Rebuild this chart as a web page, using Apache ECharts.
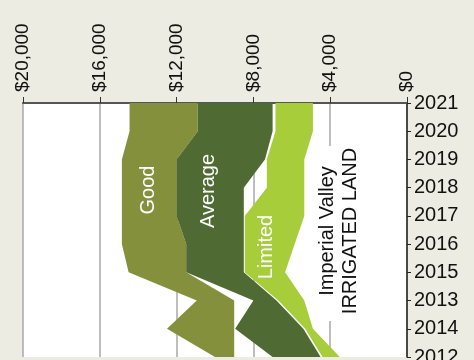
<!DOCTYPE html>
<html>
<head>
<meta charset="utf-8">
<script src="https://cdn.jsdelivr.net/npm/echarts@6/dist/echarts.min.js"></script>
<style>
  html, body { margin: 0; padding: 0; background: #ecece2; }
  #chart { width: 474px; height: 360px; }
</style>
</head>
<body>
<div id="chart"></div>
<script>
// Years, listed from the top of the chart to the bottom
const years = ['2021', '2020', '2019', '2018', '2017', '2016', '2015', '2013', '2014', '2012'];

// Land value ranges ($ per acre), high and low edge of each band
const goodHigh    = [14450, 14450, 14850, 14850, 14850, 14850, 14500, 10950, 12500, 10000];
const goodLow     = [10900, 10900, 12000, 12000, 12000, 11500, 11500,  9000,  9000,  9000];
const averageHigh = [10900, 10900, 12000, 12000, 12000, 11500, 11500,  8000,  8950,  7000];
const averageLow  = [ 7000,  7000,  7400,  8500,  8500,  8500,  8500,  6800,  5400,  4500];
const limitedHigh = [ 6850,  6850,  7300,  7300,  8450,  8450,  8450,  6700,  5300,  4400];
const limitedLow  = [ 4900,  4900,  5350,  5350,  5350,  5850,  6350,  5350,  4900,  3500];

// Value axis ticks
const valueTicks = [0, 4000, 8000, 12000, 16000, 20000];

const NARROW = '"Liberation Sans Narrow", "Liberation Sans", Arial, sans-serif';
const SANS = '"Liberation Sans", Arial, sans-serif';

// A band is an invisible base (low edge) with the range stacked on top of it
function band(name, low, high, color) {
  return [
    {
      name: name + ' base', type: 'line', stack: name, data: low,
      symbol: 'none', silent: true, lineStyle: { opacity: 0 }
    },
    {
      name: name, type: 'line', stack: name,
      data: high.map((h, i) => h - low[i]),
      symbol: 'none', silent: true, lineStyle: { opacity: 0 },
      areaStyle: { color: color, opacity: 1 }
    }
  ];
}

const chart = echarts.init(document.getElementById('chart'));
chart.setOption({
  animation: false,
  backgroundColor: '#ecece2',
  grid: {
    left: 23, right: 67, top: 103, bottom: 3,
    containLabel: false, outerBoundsMode: 'none',
    show: true, backgroundColor: '#ffffff', borderWidth: 0
  },
  xAxis: {
    type: 'value',
    position: 'top',
    inverse: true,
    min: valueTicks[0],
    max: valueTicks[valueTicks.length - 1],
    interval: valueTicks[1] - valueTicks[0],
    axisLine: { show: true, lineStyle: { color: '#555555', width: 2 } },
    axisTick: { show: true, length: 6, lineStyle: { color: '#333333', width: 1 } },
    axisLabel: {
      rotate: -90, margin: 11, fontSize: 19, fontFamily: SANS, color: '#111111',
      formatter: v => '$' + v.toLocaleString('en-US')
    },
    splitLine: { show: true, lineStyle: { color: '#a8a8a8', width: 1.5 } }
  },
  yAxis: {
    type: 'category',
    position: 'right',
    inverse: true,
    boundaryGap: false,
    data: years,
    axisLine: { onZero: false, lineStyle: { color: '#222222', width: 1.5 } },
    axisTick: { length: 4, interval: 0, lineStyle: { color: '#222222' } },
    axisLabel: { interval: 0, fontSize: 20, margin: 7, color: '#111111', fontFamily: SANS },
    splitLine: { show: false }
  },
  series: [
    ...band('Good', goodLow, goodHigh, '#85903c'),
    ...band('Average', averageLow, averageHigh, '#4f6a32'),
    ...band('Limited', limitedLow, limitedHigh, '#a7cd3a')
  ],
  graphic: [
    { type: 'rect', z: 50, shape: { x: 316, y: 146, width: 46, height: 175 }, style: { fill: '#ffffff' } },
    { type: 'text', z: 100, x: 148, y: 190, rotation: Math.PI / 2,
      style: { text: 'Good', fill: '#ffffff', font: '20px ' + NARROW, align: 'center', verticalAlign: 'middle' } },
    { type: 'text', z: 100, x: 208, y: 191, rotation: Math.PI / 2,
      style: { text: 'Average', fill: '#ffffff', font: '20px ' + NARROW, align: 'center', verticalAlign: 'middle' } },
    { type: 'text', z: 100, x: 266, y: 247, rotation: Math.PI / 2,
      style: { text: 'Limited', fill: '#ffffff', font: '20px ' + NARROW, align: 'center', verticalAlign: 'middle' } },
    { type: 'text', z: 100, x: 339, y: 231, rotation: Math.PI / 2,
      style: { text: 'Imperial Valley\nIRRIGATED LAND', fill: '#111111', font: '20px ' + NARROW,
               lineHeight: 23, align: 'center', verticalAlign: 'middle' } }
  ]
});
</script>
</body>
</html>
